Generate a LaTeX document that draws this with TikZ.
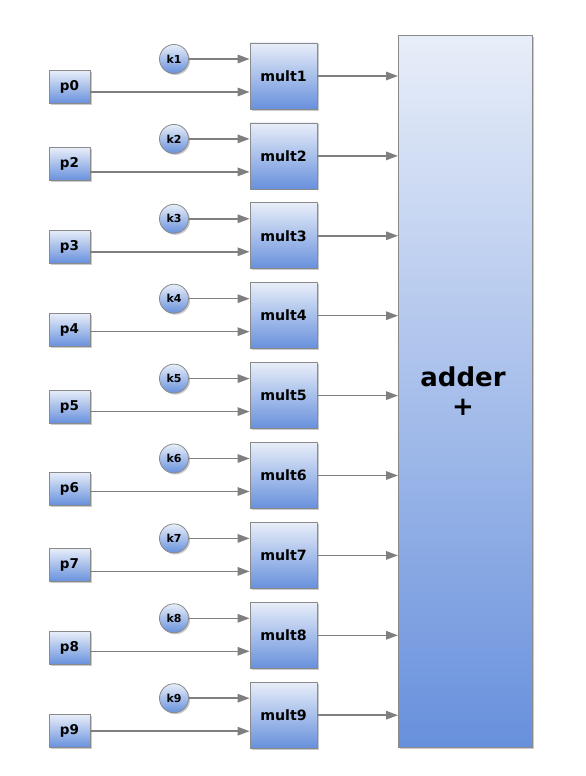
\documentclass[tikz,border=0pt]{standalone}
\usepackage{fontspec}
\setmainfont{DejaVu Sans}
\usetikzlibrary{arrows.meta,shadows,calc}
\definecolor{topc}{HTML}{E8EEF9}
\definecolor{botc}{HTML}{6790DC}
\definecolor{edgec}{HTML}{8A8A8A}
\definecolor{arrc}{HTML}{7F7F7F}
\tikzset{
  blk/.style={draw=edgec, line width=0.8pt, top color=topc, bottom color=botc,
    drop shadow={shadow xshift=1.5pt, shadow yshift=-1.5pt, opacity=0.35, fill=black!60},
    font=\bfseries, inner sep=0pt},
  multbox/.style={blk, minimum width=67pt, minimum height=66pt, font=\bfseries\fontsize{14.2}{16}\selectfont},
  pbox/.style={blk, minimum width=41pt, minimum height=33pt, font=\bfseries\fontsize{13.5}{15}\selectfont},
  kcirc/.style={blk, circle, minimum size=29pt, font=\bfseries\fontsize{11}{12}\selectfont},
  arr/.style={draw=arrc, line width=1.5pt, -{Triangle[length=12pt,width=8.5pt]}, color=arrc},
}
\begin{document}
\begin{tikzpicture}[x=1pt,y=-1pt]
\useasboundingbox (0,0) rectangle (586,776);
% adder
\node[blk, minimum width=134pt, minimum height=712pt, anchor=north west,
  top color=topc, bottom color=botc] (adder) at (398,35) {};
\node[font=\bfseries\fontsize{26}{30}\selectfont, align=center] (addtxt) at (463,391) {adder\\[-1pt]+};
% rows
\foreach \m/\p/\py [count=\i from 0] in {1/0/87, 2/2/164, 3/3/246.5, 4/4/330, 5/5/406.5, 6/6/488.5, 7/7/565, 8/8/648, 9/9/731}{
  \pgfmathsetmacro{\my}{76+79.9*\i}
  \node[multbox] (m\m) at (283.5,\my) {mult\m};
  \node[kcirc] (k\m) at (174,\my-17) {k\m};
  \node[pbox] (p\p) at (69.5,\py) {p\p};
  \coordinate (kin\m) at (m\m.west |- k\m.center);
  \coordinate (pin\m) at ($(m\m.west)+(0,16)$);
  \coordinate (aout\m) at (adder.west |- m\m.east);
  \draw[arr] (k\m.east) -- (kin\m);
  \draw[arr] (p\p.east |- pin\m) -- (pin\m);
  \draw[arr] (m\m.east) -- (aout\m);
}
\end{tikzpicture}
\end{document}
